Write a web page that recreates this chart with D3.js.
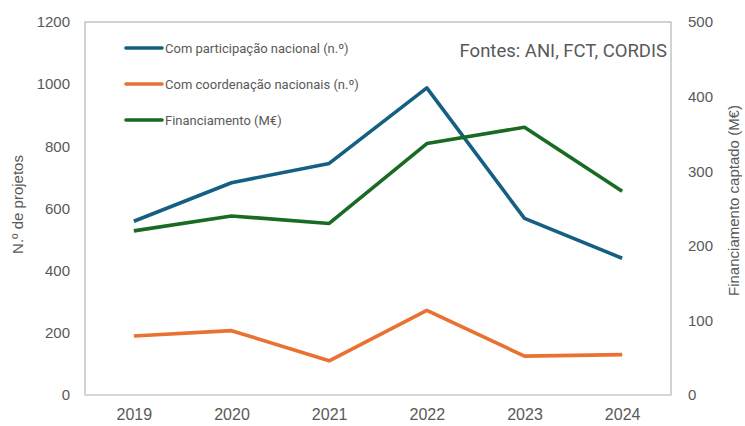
<!DOCTYPE html>
<meta charset="utf-8">
<html>
<head>
<script src="https://cdn.jsdelivr.net/npm/d3@7"></script>
<style>
body { margin: 0; background: white; }
text { font-family: "Liberation Sans", Arial, sans-serif; fill: #595959; }
.leg { font-family: Roboto, sans-serif; }
</style>
</head>
<body>
<svg id="chart"></svg>
<script>
'use strict'

const years = ["2019", "2020", "2021", "2022", "2023", "2024"]
const participacao = [559, 683, 745, 988, 568, 440]
const coordenacao = [190, 207, 110, 272, 125, 130]
const financiamento = [220, 240, 230, 337, 359, 273]
const leftTicks = [0, 200, 400, 600, 800, 1000, 1200]
const rightTicks = [0, 100, 200, 300, 400, 500]

const width = 745, height = 426
const m = { left: 85, right: 671, top: 22, bottom: 395 }

const svg = d3.select("#chart").attr("width", width).attr("height", height)

const x = d3.scalePoint().domain(years).range([m.left, m.right]).padding(0.5)
const yL = d3.scaleLinear().domain([0, 1200]).range([m.bottom, m.top])
const yR = d3.scaleLinear().domain([0, 500]).range([m.bottom, m.top])

// plot frame
svg.append("rect")
  .attr("x", m.left).attr("y", m.top)
  .attr("width", m.right - m.left).attr("height", m.bottom - m.top)
  .attr("fill", "none").attr("stroke", "#a6a6a6").attr("stroke-width", 1)
svg.append("line")
  .attr("x1", m.left).attr("x2", m.right).attr("y1", m.bottom).attr("y2", m.bottom)
  .attr("stroke", "#d9d9d9").attr("stroke-width", 1)

// left axis
const gL = svg.append("g").attr("transform", `translate(${m.left},0)`)
  .call(d3.axisLeft(yL).tickValues(leftTicks).tickFormat(d3.format("d")).tickSize(0).tickPadding(15))
gL.select(".domain").remove()
gL.selectAll("text").style("font-size", "15px").attr("fill", "#595959")

// right axis
const gR = svg.append("g").attr("transform", `translate(${m.right},0)`)
  .call(d3.axisRight(yR).tickValues(rightTicks).tickFormat(d3.format("d")).tickSize(0).tickPadding(17))
gR.select(".domain").remove()
gR.selectAll("text").style("font-size", "15px").attr("fill", "#595959")

// x axis
const gX = svg.append("g").attr("transform", `translate(0,${m.bottom})`)
  .call(d3.axisBottom(x).tickSize(0).tickPadding(14))
gX.select(".domain").remove()
gX.selectAll("text").style("font-size", "16px").attr("fill", "#595959")

// axis titles
svg.append("text")
  .attr("transform", `translate(23,${(m.top + m.bottom) / 2 - 4}) rotate(-90)`)
  .attr("text-anchor", "middle").style("font-size", "15px")
  .text("N.º de projetos")
svg.append("text")
  .attr("transform", `translate(739,${(m.top + m.bottom) / 2 - 8}) rotate(-90)`)
  .attr("text-anchor", "middle").style("font-size", "15px")
  .text("Financiamento captado (M€)")

const series = [
  { name: "Com participação nacional (n.º)", values: participacao, y: yL, color: "#156082" },
  { name: "Com coordenação nacionais (n.º)", values: coordenacao, y: yL, color: "#E97132" },
  { name: "Financiamento (M€)", values: financiamento, y: yR, color: "#196B24" }
]

series.forEach(s => {
  const line = d3.line().x((d, i) => x(years[i])).y(d => s.y(d))
  svg.append("path")
    .datum(s.values)
    .attr("d", line)
    .attr("fill", "none")
    .attr("stroke", s.color)
    .attr("stroke-width", 3.6)
    .attr("stroke-linejoin", "round")
})

// legend
const legend = svg.append("g")
series.forEach((s, i) => {
  const yy = 48 + i * 36
  legend.append("line")
    .attr("x1", 126).attr("x2", 162).attr("y1", yy).attr("y2", yy)
    .attr("stroke", s.color).attr("stroke-width", 3.6).attr("stroke-linecap", "round")
  legend.append("text")
    .attr("class", "leg")
    .attr("x", 165).attr("y", yy + 4.5)
    .style("font-size", "13px").attr("fill", "#595959")
    .text(s.name)
})

svg.append("text")
  .attr("class", "leg")
  .attr("x", 667).attr("y", 57)
  .attr("text-anchor", "end")
  .style("font-size", "18.5px").attr("fill", "#808080")
  .text("Fontes: ANI, FCT, CORDIS")
</script>
</body>
</html>
